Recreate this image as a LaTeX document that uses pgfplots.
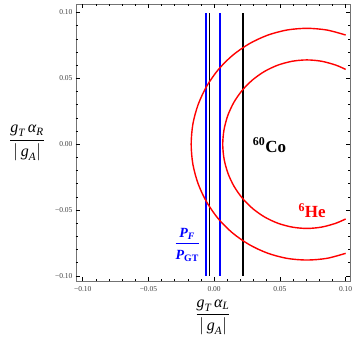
\documentclass[border=0pt]{standalone}
\usepackage{pgfplots}
\pgfplotsset{compat=1.18}
\usepackage{amsmath}
\usepackage{fontspec}
\setmainfont{Liberation Serif}
\newcommand{\ti}[1]{\text{\itshape #1}}
\newcommand{\tbi}[1]{\text{\bfseries\itshape #1}}
\newcommand{\tb}[1]{\text{\bfseries #1}}
\begin{document}
\begin{tikzpicture}
\begin{axis}[
  scale only axis, width=274pt, height=277pt,
  xmin=-0.1051, xmax=0.1033, ymin=-0.1043, ymax=0.1061,
  xtick={-0.1,-0.05,0,0.05,0.1}, ytick={-0.1,-0.05,0,0.05,0.1},
  minor x tick num=4, minor y tick num=4,
  xticklabels={−0.10,−0.05,0.00,0.05,0.10},
  yticklabels={−0.10,−0.05,0.00,0.05,0.10},
  tick align=inside,
  major tick length=4pt, minor tick length=2pt,
  tick style={draw=black, line width=0.6pt},
  axis line style={draw=black!55},
  tick label style={font=\fontsize{7.5}{8}\selectfont, text=black!75},
  xticklabel style={yshift=-1pt},
  xlabel={$\dfrac{\ti{g}_{\ti{T}}\,\ti{α}_{\ti{L}}}{|\,\ti{g}_{\ti{A}}|}$},
  ylabel={$\dfrac{\ti{g}_{\ti{T}}\,\ti{α}_{\ti{R}}}{|\,\ti{g}_{\ti{A}}|}$},
  xlabel style={at={(axis description cs:0.5,-0.13)}, anchor=center, inner sep=0pt, font=\fontsize{16}{19}\selectfont},
  ylabel style={at={(axis description cs:-0.1788,0.5)}, anchor=center, rotate=-90, inner sep=0pt, font=\fontsize{16}{19}\selectfont},
]
\pgfplotsinvokeforeach{-0.1,-0.05,0,0.05,0.1}{
  \draw[black, line width=0.6pt] (axis cs:#1,-0.1043) -- ++(0pt,4pt);
  \draw[black, line width=0.6pt] (axis cs:#1,0.1061) -- ++(0pt,-4pt);
  \draw[black, line width=0.6pt] (axis cs:-0.1051,#1) -- ++(4pt,0pt);
  \draw[black, line width=0.6pt] (axis cs:0.1033,#1) -- ++(-4pt,0pt);
}
\pgfplotsinvokeforeach{-0.09,-0.08,-0.07,-0.06,-0.04,-0.03,-0.02,-0.01,0.01,0.02,0.03,0.04,0.06,0.07,0.08,0.09}{
  \draw[black, line width=0.6pt] (axis cs:#1,-0.1043) -- ++(0pt,2pt);
  \draw[black, line width=0.6pt] (axis cs:#1,0.1061) -- ++(0pt,-2pt);
  \draw[black, line width=0.6pt] (axis cs:-0.1051,#1) -- ++(2pt,0pt);
  \draw[black, line width=0.6pt] (axis cs:0.1033,#1) -- ++(-2pt,0pt);
}
\addplot[black, line width=1.5pt] coordinates {(-0.0037,-0.1) (-0.0037,0.1)};
\addplot[black, line width=1.5pt] coordinates {(0.0220,-0.1) (0.0220,0.1)};
\addplot[blue, line width=1.5pt] coordinates {(-0.0062,-0.1) (-0.0062,0.1)};
\addplot[blue, line width=1.5pt] coordinates {(0.0044,-0.1) (0.0044,0.1)};
% outer circle
\addplot[red, line width=1.4pt, smooth] coordinates {
 (0.1,0.0829) (0.0858,0.0867) (0.0705,0.0880) (0.0552,0.0867) (0.0404,0.0827)
 (0.0265,0.0762) (0.0139,0.0674) (0.0031,0.0566) (-0.0057,0.0440) (-0.0122,0.0301)
 (-0.0162,0.0153) (-0.0175,0) (-0.0162,-0.0153) (-0.0122,-0.0301) (-0.0057,-0.0440)
 (0.0031,-0.0566) (0.0139,-0.0674) (0.0265,-0.0762) (0.0404,-0.0827) (0.0552,-0.0867)
 (0.0705,-0.0880) (0.0858,-0.0867) (0.1,-0.0829)};
% inner circle
\addplot[red, line width=1.4pt, smooth] coordinates {
 (0.1,0.0568) (0.0924,0.0601) (0.0816,0.0630) (0.0705,0.0640) (0.0594,0.0630)
 (0.0486,0.0601) (0.0385,0.0554) (0.0294,0.0490) (0.0215,0.0411) (0.0151,0.0320)
 (0.0104,0.0219) (0.0075,0.0111) (0.0065,0) (0.0075,-0.0111) (0.0104,-0.0219)
 (0.0151,-0.0320) (0.0215,-0.0411) (0.0294,-0.0490) (0.0385,-0.0554) (0.0486,-0.0601)
 (0.0594,-0.0630) (0.0705,-0.0640) (0.0816,-0.0630) (0.0924,-0.0601) (0.1,-0.0568)};
\node[anchor=base west, inner sep=0pt, font=\fontsize{17}{20}\selectfont\bfseries]
  at (axis cs:0.0293,-0.006) {\textsuperscript{60}Co};
\node[anchor=base west, inner sep=0pt, text=red, font=\fontsize{17}{20}\selectfont\bfseries]
  at (axis cs:0.064,-0.0557) {\textsuperscript{6}He};
\node[inner sep=0pt, text=blue, font=\fontsize{14}{16}\selectfont]
  at (axis cs:-0.0205,-0.0752) {$\dfrac{\rule{0pt}{13pt}\tbi{P}_{\tbi{F}}\rule[-4pt]{0pt}{0pt}}{\rule{0pt}{14pt}\tbi{P}_{\tb{GT}}}$};
\end{axis}
\pgfresetboundingbox
\path ([xshift=-76pt,yshift=-57pt]current axis.south west) rectangle ([xshift=2pt,yshift=4.5pt]current axis.north east);
\end{tikzpicture}
\end{document}
